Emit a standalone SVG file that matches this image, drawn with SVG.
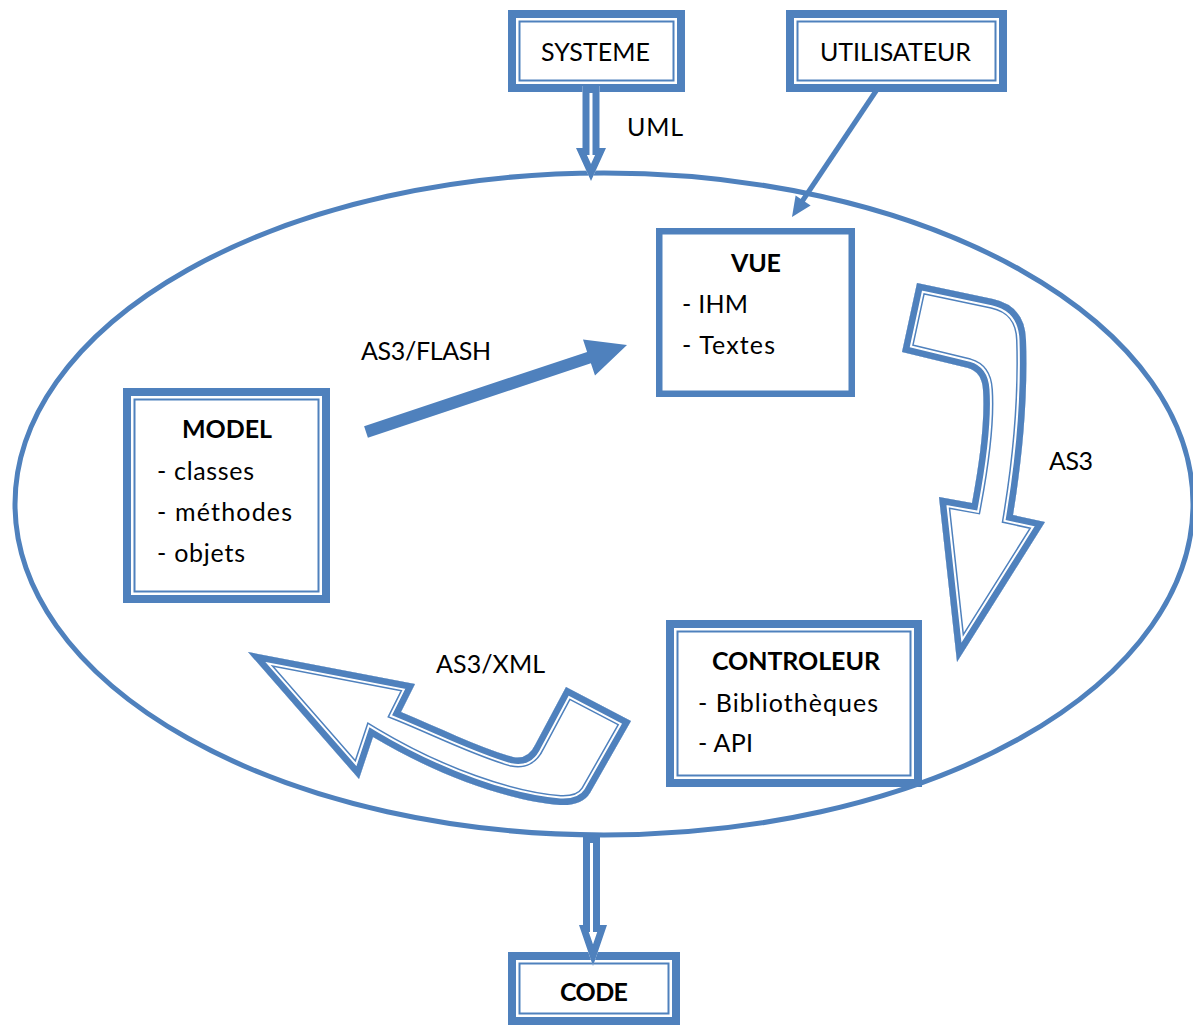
<svg xmlns="http://www.w3.org/2000/svg" width="1193" height="1027" viewBox="0 0 1193 1027">
  <style>
    .t { font-family: Lato, "Liberation Sans", sans-serif; font-size: 25px; fill: #000; }
    .b { font-weight: bold; text-anchor: middle; }
    .c { text-anchor: middle; }
    .thick { fill: #fff; stroke: #4F81BD; stroke-width: 8; }
    .thin { fill: none; stroke: #4F81BD; stroke-width: 2; }
    .blue { fill: #4F81BD; }
  </style>
  <defs>
    <!-- hollow block arrows: outer outline paths -->
    <path id="curveR" d="M 917,283 L 993,299 Q 1025,306 1026,340 C 1028,400 1022,460 1013,515 L 1045,522 L 957,662 L 939,497 L 972,503 C 980,460 985,420 983,390 Q 982,372 968,368 L 902,352 Z"/>
    <path id="curveL" d="M 248,652 L 415,684 L 401,712 C 440,728 480,748 513,757 Q 528,760 535,745 L 566,687 L 631,721 L 590,793 Q 582,806 560,805 C 510,801 440,777 373,737 L 359,779 Z"/>
    <path id="downTop" d="M 582.5,86 L 599.5,86 L 599.5,148 L 606,148 L 591,181 L 576,148 L 582.5,148 Z"/>
    <path id="downBot" d="M 583,836 L 600,836 L 600,925 L 607,925 L 593,966 L 579,925 L 583,925 Z"/>
    <clipPath id="clipR"><use href="#curveR"/></clipPath>
    <clipPath id="clipL"><use href="#curveL"/></clipPath>
    <clipPath id="clipT"><use href="#downTop"/></clipPath>
    <clipPath id="clipB"><use href="#downBot"/></clipPath>
  </defs>

  <!-- system boundary -->
  <ellipse cx="604" cy="504" rx="589" ry="331" fill="none" stroke="#4F81BD" stroke-width="5"/>

  <g id="systeme">
    <rect class="thick" x="512" y="14" width="169" height="74"/>
    <rect class="thin" x="519.5" y="21.5" width="154" height="59"/>
    <text class="t c" x="595.5" y="61" textLength="109" lengthAdjust="spacing">SYSTEME</text>
  </g>

  <g id="utilisateur">
    <rect class="thick" x="790" y="14" width="213" height="74"/>
    <rect class="thin" x="797.5" y="21.5" width="198" height="59"/>
    <text class="t c" x="895.5" y="61" textLength="151" lengthAdjust="spacing">UTILISATEUR</text>
  </g>

  <g id="vue">
    <rect x="659.25" y="231.25" width="192.5" height="162.5" fill="#fff" stroke="#4F81BD" stroke-width="6.5"/>
    <text class="t b" x="756" y="272" textLength="50" lengthAdjust="spacing">VUE</text>
    <text class="t" x="682" y="313" textLength="66" lengthAdjust="spacing">- IHM</text>
    <text class="t" x="682" y="354" textLength="93" lengthAdjust="spacing">- Textes</text>
  </g>

  <g id="model">
    <rect class="thick" x="127" y="392" width="199" height="207"/>
    <rect class="thin" x="134.5" y="399.5" width="184" height="192"/>
    <text class="t b" x="227" y="438" textLength="90" lengthAdjust="spacing">MODEL</text>
    <text class="t" x="157" y="480" textLength="97" lengthAdjust="spacing">- classes</text>
    <text class="t" x="157" y="521" textLength="135" lengthAdjust="spacing">- méthodes</text>
    <text class="t" x="157" y="562" textLength="88" lengthAdjust="spacing">- objets</text>
  </g>

  <g id="controleur">
    <rect class="thick" x="670" y="624" width="248" height="159"/>
    <rect class="thin" x="677.5" y="631.5" width="233" height="144"/>
    <text class="t b" x="796" y="670" textLength="168" lengthAdjust="spacing">CONTROLEUR</text>
    <text class="t" x="698" y="712" textLength="180" lengthAdjust="spacing">- Bibliothèques</text>
    <text class="t" x="698" y="752" textLength="55" lengthAdjust="spacing">- API</text>
  </g>

  <g id="code">
    <rect class="thick" x="512" y="956" width="164" height="65"/>
    <rect class="thin" x="519.5" y="963.5" width="149" height="50"/>
    <text class="t b" x="594" y="1001" textLength="68" lengthAdjust="spacing">CODE</text>
  </g>

  <g id="connectors">
    <!-- SYSTEME to the system (UML) -->
    <use href="#downTop" fill="#fff"/>
    <use href="#downTop" clip-path="url(#clipT)" fill="none" stroke="#4F81BD" stroke-width="14"/>
    <text class="t" x="627" y="136" textLength="56" lengthAdjust="spacing">UML</text>

    <!-- UTILISATEUR to VUE -->
    <line x1="878" y1="88" x2="801" y2="203" stroke="#4F81BD" stroke-width="5"/>
    <polygon class="blue" points="792,217 795.6,195.4 810.6,205.4"/>

    <!-- MODEL to VUE (AS3/FLASH) -->
    <polygon class="blue" points="364.1,426.3 587.1,351.9 583,339.6 627,345 595,375.6 590.9,363.3 367.9,437.7"/>
    <text class="t" x="361" y="360" textLength="130" lengthAdjust="spacing">AS3/FLASH</text>

    <!-- VUE to CONTROLEUR (AS3) -->
    <use href="#curveR" fill="#fff"/>
    <g clip-path="url(#clipR)" fill="none">
      <use href="#curveR" stroke="#4F81BD" stroke-width="20"/>
      <use href="#curveR" stroke="#fff" stroke-width="17"/>
      <use href="#curveR" stroke="#4F81BD" stroke-width="13"/>
    </g>
    <text class="t" x="1049" y="470" textLength="44" lengthAdjust="spacing">AS3</text>

    <!-- CONTROLEUR to MODEL (AS3/XML) -->
    <use href="#curveL" fill="#fff"/>
    <g clip-path="url(#clipL)" fill="none">
      <use href="#curveL" stroke="#4F81BD" stroke-width="20"/>
      <use href="#curveL" stroke="#fff" stroke-width="17"/>
      <use href="#curveL" stroke="#4F81BD" stroke-width="13"/>
    </g>
    <text class="t" x="436" y="673" textLength="109" lengthAdjust="spacing">AS3/XML</text>

    <!-- system to CODE -->
    <use href="#downBot" fill="#fff"/>
    <use href="#downBot" clip-path="url(#clipB)" fill="none" stroke="#4F81BD" stroke-width="14"/>
  </g>
</svg>
